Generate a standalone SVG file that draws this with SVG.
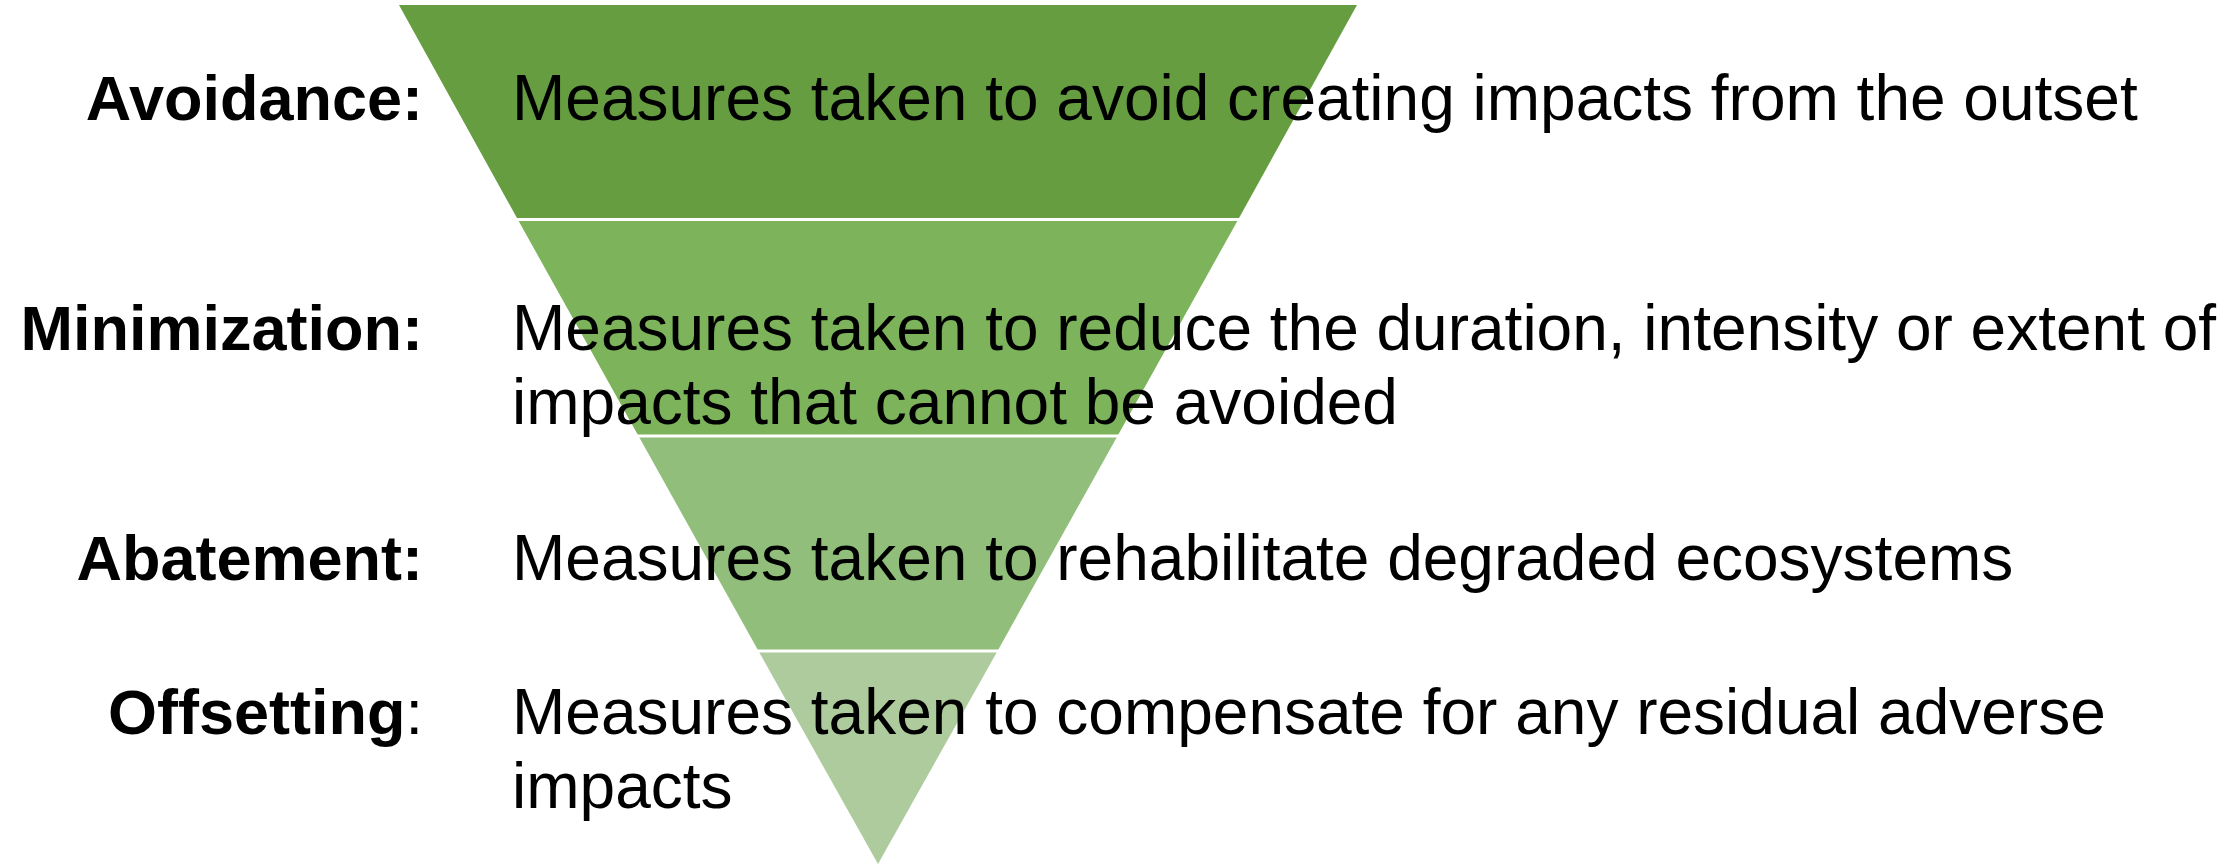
<svg xmlns="http://www.w3.org/2000/svg" width="2240" height="865" viewBox="0 0 2240 865">
  <style>
    .label { font-family: "Liberation Sans", Arial, sans-serif; font-size: 63px; font-weight: bold; fill: #000; text-anchor: end; }
    .desc { font-family: "Liberation Sans", Arial, sans-serif; font-size: 64px; fill: #000; }
    .sep { stroke: #ffffff; stroke-width: 3; }
  </style>
  <rect width="2240" height="865" fill="#ffffff"/>

  <!-- inverted triangle, split into four bands -->
  <g id="funnel">
    <polygon id="band-avoidance" points="399,5 1357,5 1238.2,219.5 517.8,219.5" fill="#669D41"/>
    <polygon id="band-minimization" points="517.8,219.5 1238.2,219.5 1117.5,436 638.5,436" fill="#7CB35B"/>
    <polygon id="band-abatement" points="638.5,436 1117.5,436 997.5,651 758.5,651" fill="#91BF7B"/>
    <polygon id="band-offsetting" points="758.5,651 997.5,651 878,864" fill="#ADCB9D"/>
    <line class="sep" x1="500" y1="219.5" x2="1260" y2="219.5"/>
    <line class="sep" x1="620" y1="436" x2="1140" y2="436"/>
    <line class="sep" x1="740" y1="651" x2="1020" y2="651"/>
  </g>

  <g id="avoidance">
    <text class="label" x="423" y="120">Avoidance:</text>
    <text class="desc" x="512" y="120">Measures taken to avoid creating impacts from the outset</text>
  </g>

  <g id="minimization">
    <text class="label" x="423" y="350">Minimization:</text>
    <text class="desc" x="512" y="350">Measures taken to reduce the duration, intensity or extent of</text>
    <text class="desc" x="512" y="424">impacts that cannot be avoided</text>
  </g>

  <g id="abatement">
    <text class="label" x="423" y="580">Abatement:</text>
    <text class="desc" x="512" y="580">Measures taken to rehabilitate degraded ecosystems</text>
  </g>

  <g id="offsetting">
    <text class="label" x="423" y="734">Offsetting<tspan font-weight="normal">:</tspan></text>
    <text class="desc" x="512" y="734">Measures taken to compensate for any residual adverse</text>
    <text class="desc" x="512" y="808">impacts</text>
  </g>
</svg>
